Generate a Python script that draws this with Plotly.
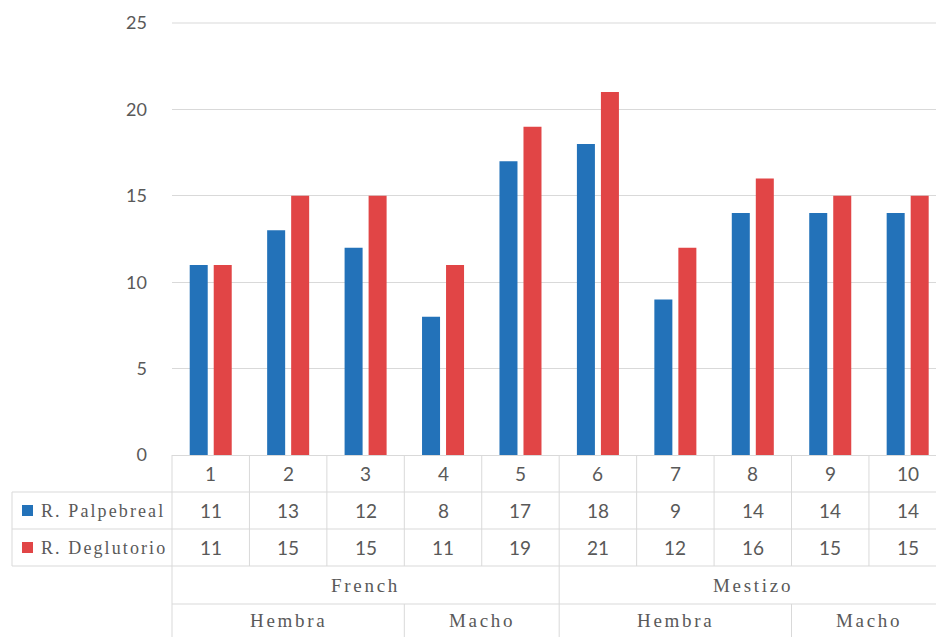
import plotly.graph_objects as go

# --- data -------------------------------------------------------------
categories = ["1", "2", "3", "4", "5", "6", "7", "8", "9", "10"]
palpebreal = [11, 13, 12, 8, 17, 18, 9, 14, 14, 14]
deglutorio = [11, 15, 15, 11, 19, 21, 12, 16, 15, 15]
series_names = ["R. Palpebreal", "R. Deglutorio"]
series_colors = ["#2372B9", "#E14546"]

breeds = ["French", "Mestizo"]
breed_sizes = [5, 5]
sexes = ["Hembra", "Macho", "Hembra", "Macho"]
sex_sizes = [3, 2, 3, 2]

y_ticks = [0, 5, 10, 15, 20, 25]

# --- geometry -----------------------------------------------------------
W, H = 936, 637
L, T, B = 172, 23, 182
plot_w = W - L
plot_h = H - T - B
cat_px = 77.44                      # width of one category column
x_lo = -0.5
x_hi = x_lo + plot_w / cat_px       # last column runs past the right edge

GRID = "#D9D9D9"
TXT = "#595959"
NUM_FONT = dict(family="Lato, Open Sans, sans-serif", size=19, color=TXT)
SERIF = "Liberation Serif, Times New Roman, serif"


def px_x(px):
    return (px - L) / plot_w


def px_y(py):
    return (H - B - py) / plot_h


def cat_edge(k):
    """paper x of the boundary before category index k"""
    return (k - 0.5 - x_lo) / (x_hi - x_lo)


def cat_mid(pos):
    return (pos - x_lo) / (x_hi - x_lo)


def spaced(text, sp):
    return f'<span style="letter-spacing:{sp}px">{text}</span>'


xs = list(range(len(categories)))
fig = go.Figure()
for name, vals, col in zip(series_names, [palpebreal, deglutorio], series_colors):
    fig.add_trace(go.Bar(x=xs, y=vals, name=name, marker_color=col,
                         marker_line_width=0, showlegend=False))

shapes = []
annotations = []


def hline(y, x0, x1):
    shapes.append(dict(type="line", xref="paper", yref="paper",
                       x0=x0, x1=x1, y0=y, y1=y,
                       line=dict(color=GRID, width=1)))


def vline(x, y0, y1):
    shapes.append(dict(type="line", xref="paper", yref="paper",
                       x0=x, x1=x, y0=y0, y1=y1,
                       line=dict(color=GRID, width=1)))


def label(x, y, text, font, xanchor="center"):
    annotations.append(dict(xref="paper", yref="paper", x=x, y=y,
                            xanchor=xanchor, yanchor="middle", text=text,
                            showarrow=False, font=font))


# top gridline at the end of the value range
hline(1, 0, 1.05)

# table rows (pixel rows beneath the plot)
row_top = H - B
row_vals1 = 492
row_vals2 = 529
row_breed = 566
row_sex = 604
row_end = H + 2
legend_left = 12

hline(px_y(row_vals1), px_x(legend_left), 1.05)
hline(px_y(row_vals2), px_x(legend_left), 1.05)
hline(px_y(row_breed), px_x(legend_left), 1.05)
hline(px_y(row_sex), 0, 1.05)
vline(px_x(legend_left), px_y(row_vals1), px_y(row_breed))

# column borders for the number rows
for k in range(len(categories) + 1):
    vline(cat_edge(k), px_y(row_top), px_y(row_breed))

group_font = dict(family=SERIF, size=19, color=TXT)

# breed row
k = 0
vline(cat_edge(0), px_y(row_breed), px_y(row_end))
for name, n in zip(breeds, breed_sizes):
    label(cat_mid(k + (n - 1) / 2), px_y(585), spaced(name, 2.7), group_font)
    k += n
    vline(cat_edge(k), px_y(row_breed), px_y(row_sex))

# sex row
k = 0
for name, n in zip(sexes, sex_sizes):
    label(cat_mid(k + (n - 1) / 2), px_y(620), spaced(name, 2.7), group_font)
    k += n
    vline(cat_edge(k), px_y(row_sex), px_y(row_end))

# category numbers and values
for i, c in enumerate(categories):
    label(cat_mid(i), px_y((row_top + row_vals1) / 2), c, NUM_FONT)
    for vals, (y0, y1) in zip([palpebreal, deglutorio],
                              [(row_vals1, row_vals2), (row_vals2, row_breed)]):
        label(cat_mid(i), px_y((y0 + y1) / 2), str(vals[i]), NUM_FONT)

# legend keys in the row headers
for name, col, (y0, y1) in zip(series_names, series_colors,
                               [(row_vals1, row_vals2), (row_vals2, row_breed)]):
    cy = (y0 + y1) / 2
    shapes.append(dict(type="rect", xref="paper", yref="paper",
                       x0=px_x(22), x1=px_x(33), y0=px_y(cy - 5.5), y1=px_y(cy + 5.5),
                       fillcolor=col, line=dict(width=0)))
    label(px_x(39), px_y(cy), spaced(name, 2.1),
          dict(family=SERIF, size=18, color=TXT), xanchor="left")

fig.update_layout(
    width=W, height=H,
    margin=dict(l=L, r=0, t=T, b=B, pad=0),
    paper_bgcolor="white", plot_bgcolor="white",
    barmode="group", bargap=0.38, bargroupgap=0.25,
    shapes=shapes, annotations=annotations,
    xaxis=dict(range=[x_lo, x_hi], showticklabels=False, showgrid=False,
               zeroline=False, showline=False, ticks=""),
    yaxis=dict(range=[0, 25], tickvals=y_ticks, showgrid=True, gridcolor=GRID,
               gridwidth=1, zeroline=True, zerolinecolor=GRID, zerolinewidth=1,
               showline=False, ticks="", ticklabelstandoff=24,
               tickfont=dict(family="Lato, Open Sans, sans-serif", size=18, color=TXT)),
)

fig.write_html("out.html")
